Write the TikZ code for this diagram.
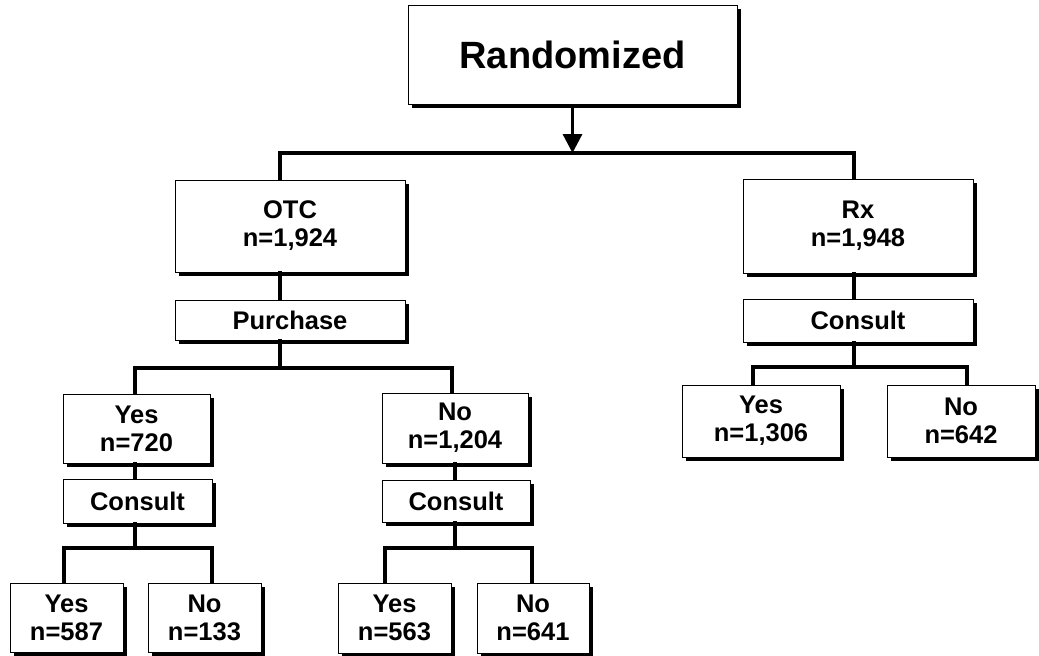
\documentclass[tikz,border=0pt]{standalone}
\usepackage{fontspec}
\setmainfont{Liberation Sans}
\usetikzlibrary{arrows.meta,shadows}
\begin{document}
\begin{tikzpicture}[x=1pt,y=-1pt,
  box/.style={draw=black,line width=0.9pt,fill=white,align=center,
    font=\fontsize{25.5}{28}\selectfont\bfseries,inner sep=0pt,
    drop shadow={shadow xshift=4pt,shadow yshift=-4pt,fill=black,opacity=1}},
  link/.style={line width=3.3pt,line cap=rect},
  tip/.style={-{Triangle[width=19pt,length=19pt]}}]
\useasboundingbox (0,0) rectangle (1039,656);

% top level
\node[box,minimum width=329pt,minimum height=99pt,font=\fontsize{38}{40}\selectfont\bfseries]
  (rand) at (572.5,54.5) {Randomized};

% arms
\node[box,minimum width=230pt,minimum height=92pt] (otc) at (290,226) {OTC\\n=1,924};
\node[box,minimum width=230pt,minimum height=40pt] (purch) at (290,320) {Purchase};
\node[box,minimum width=230pt,minimum height=94pt] (rx) at (858,226) {Rx\\n=1,948};
\node[box,minimum width=230pt,minimum height=43pt] (consr) at (858,320.5) {Consult};

% OTC purchase branches
\node[box,minimum width=147pt,minimum height=69pt] (yes1) at (136.5,428.5) {Yes\\n=720};
\node[box,minimum width=149pt,minimum height=44pt] (cons1) at (137.5,501) {Consult};
\node[box,minimum width=146pt,minimum height=70pt] (no1) at (455,428) {No\\n=1,204};
\node[box,minimum width=148pt,minimum height=42pt] (cons2) at (456,501) {Consult};

% Rx consult branches
\node[box,minimum width=158pt,minimum height=72pt] (yesr) at (761,421) {Yes\\n=1,306};
\node[box,minimum width=148pt,minimum height=72pt] (nor) at (961,421) {No\\n=642};

% OTC consult branches
\node[box,minimum width=113pt,minimum height=69pt] (y11) at (66.5,617.5) {Yes\\n=587};
\node[box,minimum width=113pt,minimum height=69pt] (n11) at (204.5,617.5) {No\\n=133};
\node[box,minimum width=113pt,minimum height=70pt] (y21) at (394.5,618) {Yes\\n=563};
\node[box,minimum width=112pt,minimum height=70pt] (n21) at (533,618) {No\\n=641};

% connectors
\coordinate (bar0) at (572.5,153);
\draw[link,tip,line cap=butt] (rand.south) -- (bar0);
\draw[link] (otc.north -| 280,0) -- (280,153) -- (854,153) -- (rx.north -| 854,0);

\draw[link] (otc.south -| 280,0) -- (purch.north -| 280,0);
\draw[link] (purch.south -| 280,0) -- (280,368);
\draw[link] (yes1.north -| 135,0) -- (135,368) -- (452,368) -- (no1.north -| 452,0);

\draw[link] (yes1.south -| 135,0) -- (cons1.north -| 135,0);
\draw[link] (cons1.south -| 135,0) -- (135,548);
\draw[link] (y11.north -| 64,0) -- (64,548) -- (212,548) -- (n11.north -| 212,0);

\draw[link] (no1.south -| 455,0) -- (cons2.north -| 455,0);
\draw[link] (cons2.south -| 455,0) -- (455,548);
\draw[link] (y21.north -| 385,0) -- (385,548) -- (532,548) -- (n21.north -| 532,0);

\draw[link] (rx.south -| 854,0) -- (consr.north -| 854,0);
\draw[link] (consr.south -| 854,0) -- (854,367);
\draw[link] (yesr.north -| 753,0) -- (753,367) -- (967,367) -- (nor.north -| 967,0);
\end{tikzpicture}
\end{document}
